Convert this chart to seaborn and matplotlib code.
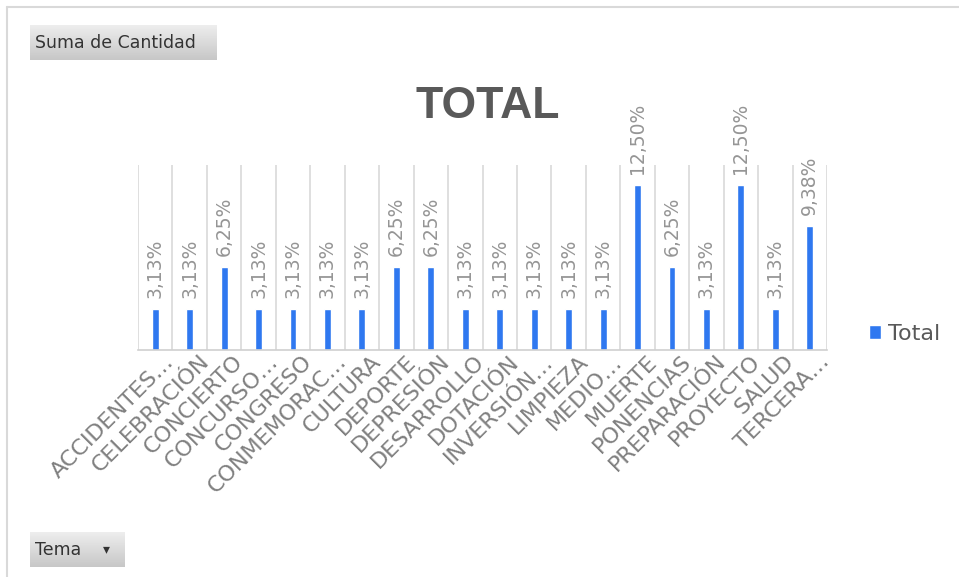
import matplotlib
matplotlib.use("Agg")
import matplotlib.pyplot as plt
import seaborn as sns
import pandas as pd
import numpy as np
from matplotlib.lines import Line2D
from matplotlib.transforms import ScaledTranslation

categories = ["ACCIDENTES…", "CELEBRACIÓN", "CONCIERTO", "CONCURSO…", "CONGRESO",
              "CONMEMORAC…", "CULTURA", "DEPORTE", "DEPRESIÓN", "DESARROLLO",
              "DOTACIÓN", "INVERSIÓN…", "LIMPIEZA", "MEDIO…", "MUERTE",
              "PONENCIAS", "PREPARACIÓN", "PROYECTO", "SALUD", "TERCERA…"]
values = [3.13, 3.13, 6.25, 3.13, 3.13, 3.13, 3.13, 6.25, 6.25, 3.13,
          3.13, 3.13, 3.13, 3.13, 12.50, 6.25, 3.13, 12.50, 3.13, 9.38]
series_name = "Total"

df = pd.DataFrame({"Tema": categories, "Valor": values})

W, H = 959, 577
sns.set_theme(style="white")
plt.rcParams['font.family'] = ['DejaVu Sans']

fig = plt.figure(figsize=(W / 100, H / 100), dpi=100)
fig.patch.set_facecolor("white")

L, R, T, B = 138, 827, 165, 350
ax = fig.add_axes([L / W, 1 - B / H, (R - L) / W, (B - T) / H])

blue = "#2f78f0"
sns.barplot(data=df, x="Tema", y="Valor", color=blue, width=0.2, ax=ax,
            label=series_name, saturation=1)

ax.set_xlim(-0.5, len(categories) - 0.5)
ax.set_ylim(0, 14)
ax.set_xlabel("")
ax.set_ylabel("")
ax.set_yticks([])

for s in ["top", "left", "right"]:
    ax.spines[s].set_visible(False)
ax.spines["bottom"].set_color("#d0d0d0")
ax.spines["bottom"].set_linewidth(1.2)

ax.set_xticks([i - 0.5 for i in range(len(categories) + 1)], minor=True)
ax.grid(False)
ax.grid(True, which="minor", axis="x", color="#d9d9d9", linewidth=1.2)
ax.tick_params(axis="x", which="both", length=0, pad=6)

ax.set_xticks(range(len(categories)))
ax.set_xticklabels(categories, rotation=45, ha="right", va="center",
                   rotation_mode="anchor", fontsize=16, color="#808080")
offset = ScaledTranslation(16 / 100, 0, fig.dpi_scale_trans)
for lab in ax.get_xticklabels():
    lab.set_transform(lab.get_transform() + offset)

labels = [f"{v:.2f}%".replace(".", ",") for v in values]
ax.bar_label(ax.containers[0], labels=labels, rotation=90, padding=8,
             fontsize=13.5, color="#959595")

fig.text(487.5 / W, 1 - 107 / H, "TOTAL", ha="center", va="center",
         fontsize=32, fontweight="bold", color="#595959",
         family="Liberation Sans")

leg = ax.legend(loc="center left", bbox_to_anchor=(858 / W, 1 - 334 / H),
                bbox_transform=fig.transFigure, frameon=False,
                handlelength=0.55, handleheight=0.55, handletextpad=0.3,
                borderpad=0, fontsize=16)
for t in leg.get_texts():
    t.set_color("#595959")

# outer frame (top and left edges)
fig.add_artist(Line2D([7 / W, 1.0], [1 - 7 / H, 1 - 7 / H], transform=fig.transFigure,
                      color="#d9d9d9", lw=1.5))
fig.add_artist(Line2D([7 / W, 7 / W], [0.0, 1 - 7 / H], transform=fig.transFigure,
                      color="#d9d9d9", lw=1.5))

# field buttons with vertical gradient
grad = np.linspace(0.93, 0.78, 64).reshape(-1, 1)

def button(x0, y0, x1, y1):
    bax = fig.add_axes([x0 / W, 1 - y1 / H, (x1 - x0) / W, (y1 - y0) / H], zorder=-1)
    bax.imshow(np.repeat(grad, 4, axis=1), cmap="gray", vmin=0, vmax=1,
               aspect="auto", extent=[0, 1, 0, 1])
    bax.set_axis_off()

button(30, 25, 217, 60)
fig.text(35 / W, 1 - 43 / H, "Suma de Cantidad", ha="left", va="center",
         fontsize=12.5, color="#333333")
button(30, 532, 125, 567)
fig.text(35 / W, 1 - 550 / H, "Tema", ha="left", va="center",
         fontsize=12.5, color="#333333")
fig.text(106 / W, 1 - 549 / H, "▾", ha="center", va="center",
         fontsize=10, color="#333333")

fig.savefig("out.png", dpi=100, facecolor="white")
